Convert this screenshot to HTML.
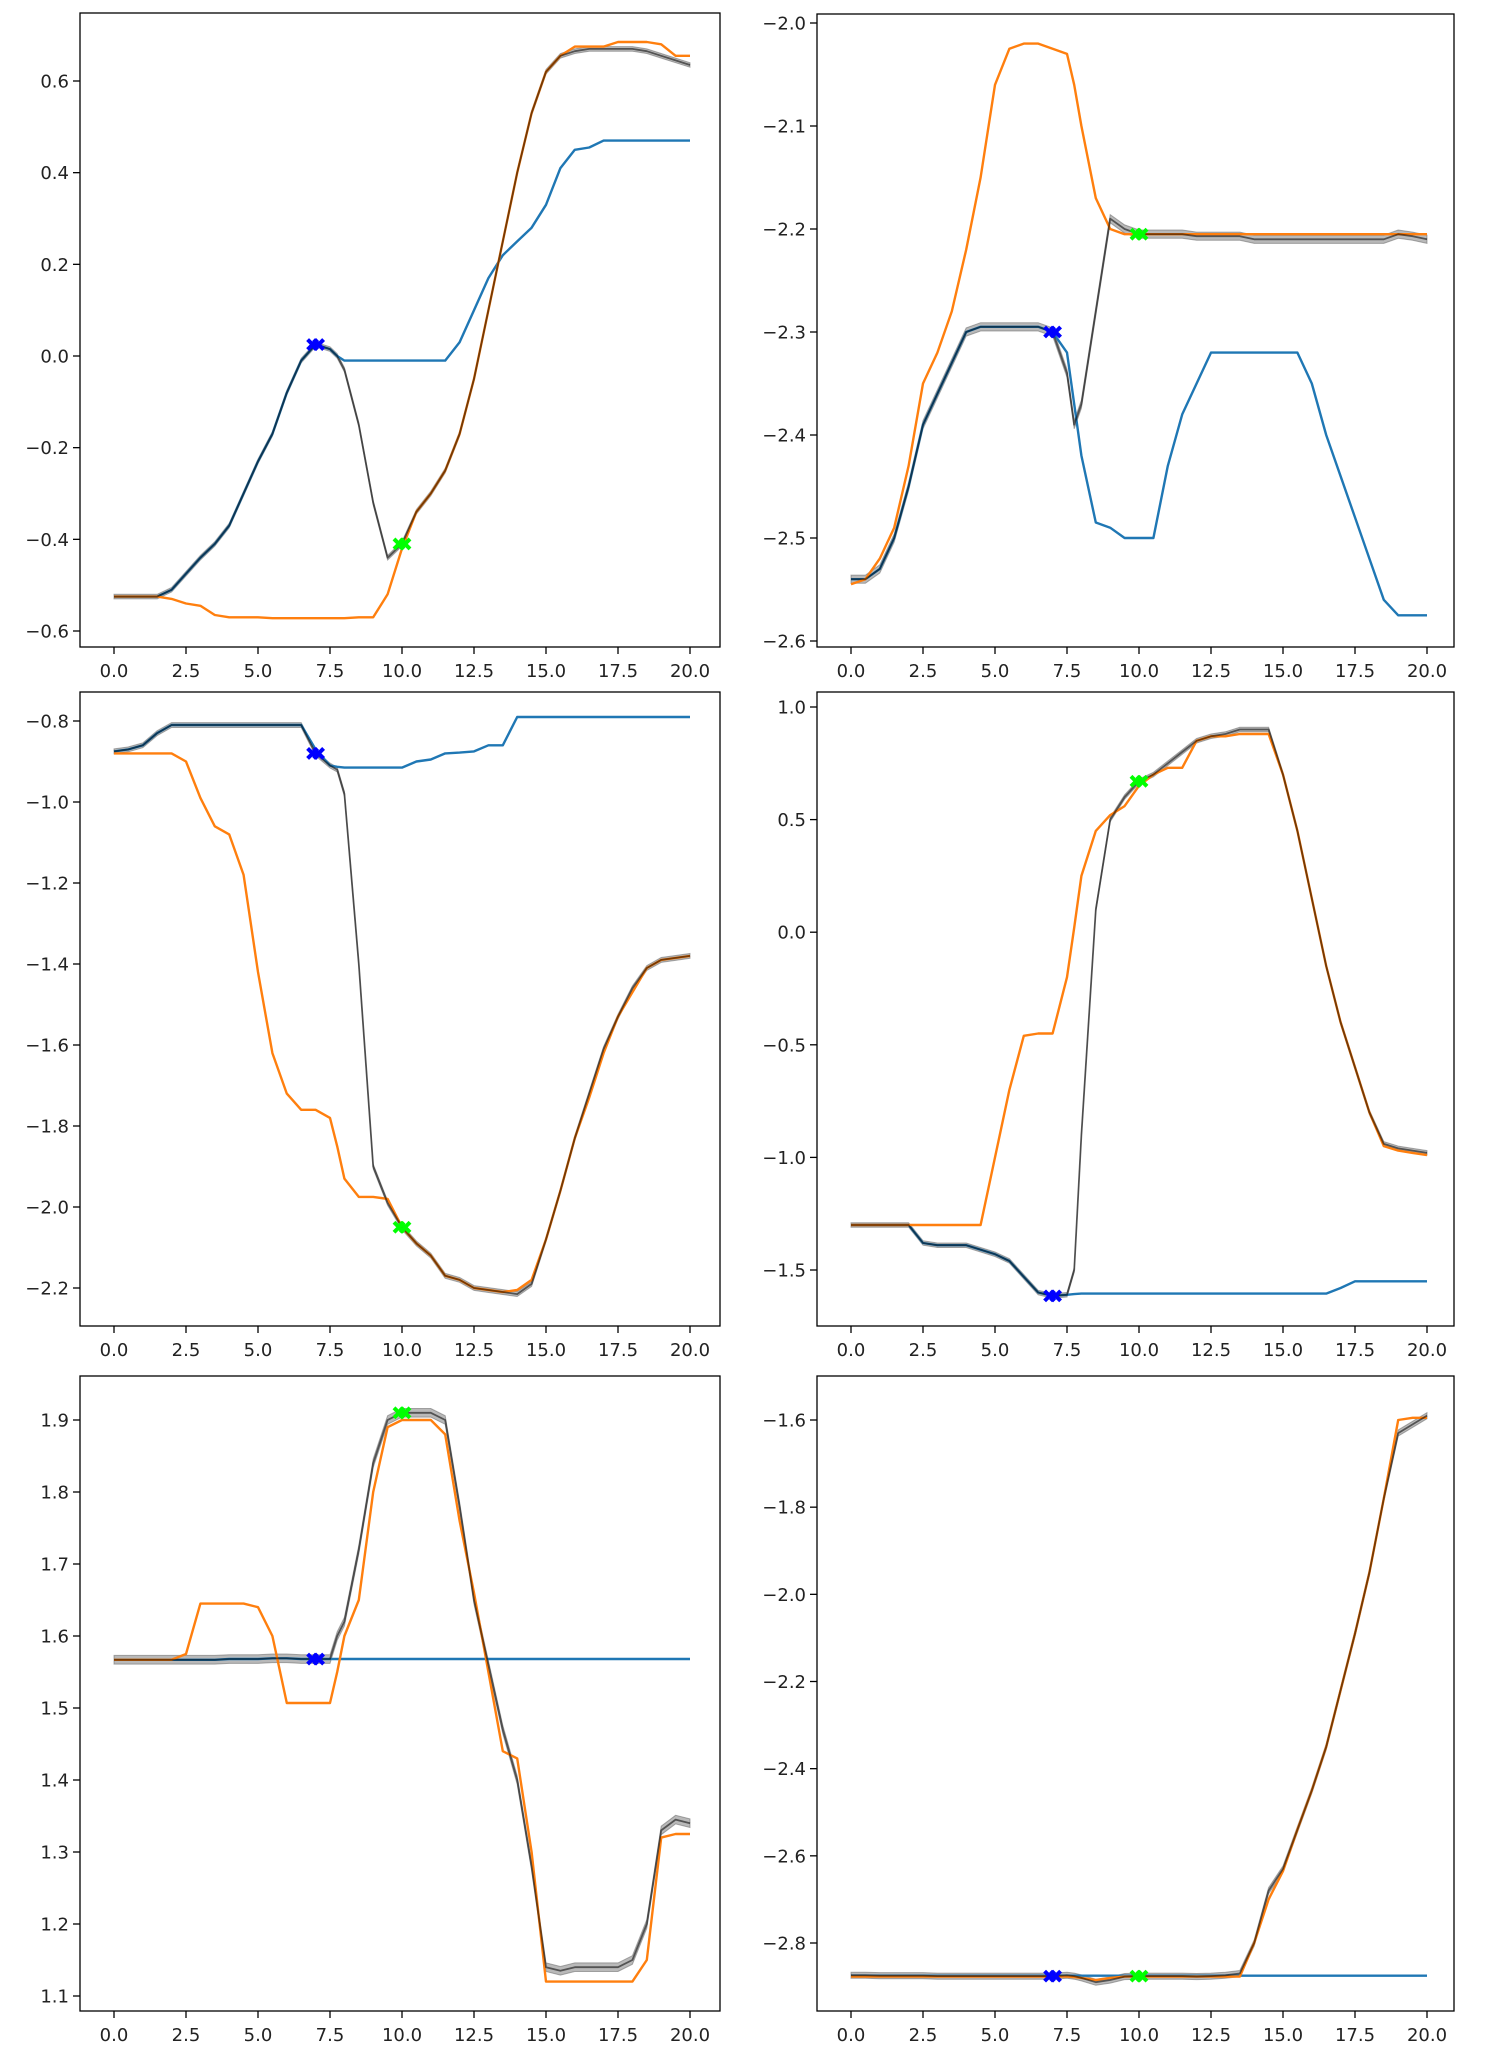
<!DOCTYPE html>
<html><head><meta charset="utf-8">
<style>
body{margin:0;background:#fff;}
svg{display:block;font-family:"DejaVu Sans","Liberation Sans",sans-serif;}
</style></head>
<body>
<svg id="fig" width="1486" height="2058" viewBox="0 0 1486 2058" xmlns="http://www.w3.org/2000/svg"></svg>
<script>
const xs = [0,0.5,1,1.5,2,2.5,3,3.5,4,4.5,5,5.5,6,6.5,7,7.5,7.75,8,8.5,9,9.5,10,10.5,11,11.5,12,12.5,13,13.5,14,14.5,15,15.5,16,16.5,17,17.5,18,18.5,19,19.5,20];
const xTicks = [0, 2.5, 5, 7.5, 10, 12.5, 15, 17.5, 20];
const xTickLabels = ["0.0","2.5","5.0","7.5","10.0","12.5","15.0","17.5","20.0"];

// Panel 1
const p1Blue = [-0.525,-0.525,-0.525,-0.525,-0.51,-0.475,-0.44,-0.41,-0.37,-0.3,-0.23,-0.17,-0.08,-0.01,0.025,0.015,0.0,-0.01,-0.01,-0.01,-0.01,-0.01,-0.01,-0.01,-0.01,0.03,0.1,0.17,0.22,0.25,0.28,0.33,0.41,0.45,0.455,0.47,0.47,0.47,0.47,0.47,0.47,0.47];
const p1Orange = [-0.525,-0.525,-0.525,-0.525,-0.53,-0.54,-0.545,-0.565,-0.57,-0.57,-0.57,-0.572,-0.572,-0.572,-0.572,-0.572,-0.572,-0.572,-0.57,-0.57,-0.52,-0.42,-0.34,-0.3,-0.25,-0.17,-0.05,0.1,0.25,0.4,0.53,0.62,0.655,0.675,0.675,0.675,0.685,0.685,0.685,0.68,0.655,0.655];
const p1Gray = [-0.525,-0.525,-0.525,-0.525,-0.51,-0.475,-0.44,-0.41,-0.37,-0.3,-0.23,-0.17,-0.08,-0.01,0.025,0.015,0.0,-0.03,-0.15,-0.32,-0.44,-0.41,-0.34,-0.3,-0.25,-0.17,-0.05,0.1,0.25,0.4,0.53,0.62,0.655,0.665,0.67,0.67,0.67,0.67,0.665,0.655,0.645,0.635];
const p1Ticks = [-0.6,-0.4,-0.2,0,0.2,0.4,0.6];
const p1TickLabels = ["\u22120.6","\u22120.4","\u22120.2","0.0","0.2","0.4","0.6"];

// Panel 2
const p2Blue = [-2.54,-2.54,-2.53,-2.5,-2.45,-2.39,-2.36,-2.33,-2.3,-2.295,-2.295,-2.295,-2.295,-2.295,-2.3,-2.32,-2.37,-2.42,-2.485,-2.49,-2.5,-2.5,-2.5,-2.43,-2.38,-2.35,-2.32,-2.32,-2.32,-2.32,-2.32,-2.32,-2.32,-2.35,-2.4,-2.44,-2.48,-2.52,-2.56,-2.575,-2.575,-2.575];
const p2Orange = [-2.545,-2.54,-2.52,-2.49,-2.43,-2.35,-2.32,-2.28,-2.22,-2.15,-2.06,-2.025,-2.02,-2.02,-2.025,-2.03,-2.06,-2.1,-2.17,-2.2,-2.205,-2.205,-2.205,-2.205,-2.205,-2.205,-2.205,-2.205,-2.205,-2.205,-2.205,-2.205,-2.205,-2.205,-2.205,-2.205,-2.205,-2.205,-2.205,-2.205,-2.205,-2.205];
const p2Gray = [-2.54,-2.54,-2.53,-2.5,-2.45,-2.39,-2.36,-2.33,-2.3,-2.295,-2.295,-2.295,-2.295,-2.295,-2.3,-2.34,-2.39,-2.37,-2.28,-2.19,-2.2,-2.205,-2.205,-2.205,-2.205,-2.207,-2.207,-2.207,-2.207,-2.21,-2.21,-2.21,-2.21,-2.21,-2.21,-2.21,-2.21,-2.21,-2.21,-2.205,-2.207,-2.21];
const p2Ticks = [-2.6,-2.5,-2.4,-2.3,-2.2,-2.1,-2.0];
const p2TickLabels = ["\u22122.6","\u22122.5","\u22122.4","\u22122.3","\u22122.2","\u22122.1","\u22122.0"];

// Panel 3
const p3Blue = [-0.875,-0.87,-0.86,-0.83,-0.81,-0.81,-0.81,-0.81,-0.81,-0.81,-0.81,-0.81,-0.81,-0.81,-0.87,-0.91,-0.913,-0.915,-0.915,-0.915,-0.915,-0.915,-0.9,-0.895,-0.88,-0.878,-0.875,-0.86,-0.86,-0.79,-0.79,-0.79,-0.79,-0.79,-0.79,-0.79,-0.79,-0.79,-0.79,-0.79,-0.79,-0.79];
const p3Orange = [-0.88,-0.88,-0.88,-0.88,-0.88,-0.9,-0.99,-1.06,-1.08,-1.18,-1.42,-1.62,-1.72,-1.76,-1.76,-1.78,-1.85,-1.93,-1.975,-1.975,-1.98,-2.05,-2.09,-2.12,-2.17,-2.18,-2.2,-2.205,-2.21,-2.205,-2.18,-2.08,-1.96,-1.83,-1.73,-1.62,-1.53,-1.47,-1.41,-1.39,-1.385,-1.38];
const p3Gray = [-0.875,-0.87,-0.86,-0.83,-0.81,-0.81,-0.81,-0.81,-0.81,-0.81,-0.81,-0.81,-0.81,-0.81,-0.88,-0.91,-0.92,-0.98,-1.4,-1.9,-1.99,-2.05,-2.09,-2.12,-2.17,-2.18,-2.2,-2.205,-2.21,-2.215,-2.19,-2.08,-1.96,-1.83,-1.72,-1.61,-1.53,-1.46,-1.41,-1.39,-1.385,-1.38];
const p3Ticks = [-2.2,-2.0,-1.8,-1.6,-1.4,-1.2,-1.0,-0.8];
const p3TickLabels = ["\u22122.2","\u22122.0","\u22121.8","\u22121.6","\u22121.4","\u22121.2","\u22121.0","\u22120.8"];

// Panel 4
const p4Blue = [-1.3,-1.3,-1.3,-1.3,-1.3,-1.38,-1.39,-1.39,-1.39,-1.41,-1.43,-1.46,-1.53,-1.6,-1.615,-1.61,-1.607,-1.605,-1.605,-1.605,-1.605,-1.605,-1.605,-1.605,-1.605,-1.605,-1.605,-1.605,-1.605,-1.605,-1.605,-1.605,-1.605,-1.605,-1.605,-1.58,-1.55,-1.55,-1.55,-1.55,-1.55,-1.55];
const p4Orange = [-1.3,-1.3,-1.3,-1.3,-1.3,-1.3,-1.3,-1.3,-1.3,-1.3,-1.0,-0.7,-0.46,-0.45,-0.45,-0.2,0.02,0.25,0.45,0.52,0.56,0.65,0.7,0.73,0.73,0.85,0.87,0.87,0.88,0.88,0.88,0.7,0.45,0.15,-0.15,-0.4,-0.6,-0.8,-0.95,-0.97,-0.98,-0.99];
const p4Gray = [-1.3,-1.3,-1.3,-1.3,-1.3,-1.38,-1.39,-1.39,-1.39,-1.41,-1.43,-1.46,-1.53,-1.6,-1.615,-1.61,-1.5,-0.9,0.1,0.5,0.6,0.67,0.7,0.75,0.8,0.85,0.87,0.88,0.9,0.9,0.9,0.7,0.45,0.15,-0.15,-0.4,-0.6,-0.8,-0.94,-0.96,-0.97,-0.98];
const p4Ticks = [-1.5,-1.0,-0.5,0,0.5,1.0];
const p4TickLabels = ["\u22121.5","\u22121.0","\u22120.5","0.0","0.5","1.0"];

// Panel 5
const p5Blue = [1.567,1.567,1.567,1.567,1.567,1.567,1.567,1.567,1.568,1.568,1.568,1.569,1.569,1.568,1.568,1.568,1.568,1.568,1.568,1.568,1.568,1.568,1.568,1.568,1.568,1.568,1.568,1.568,1.568,1.568,1.568,1.568,1.568,1.568,1.568,1.568,1.568,1.568,1.568,1.568,1.568,1.568];
const p5Orange = [1.567,1.567,1.567,1.567,1.567,1.575,1.645,1.645,1.645,1.645,1.64,1.6,1.507,1.507,1.507,1.507,1.55,1.6,1.65,1.8,1.89,1.9,1.9,1.9,1.88,1.76,1.66,1.55,1.44,1.43,1.3,1.12,1.12,1.12,1.12,1.12,1.12,1.12,1.15,1.32,1.325,1.325];
const p5Gray = [1.567,1.567,1.567,1.567,1.567,1.567,1.567,1.567,1.568,1.568,1.568,1.569,1.569,1.568,1.568,1.568,1.6,1.62,1.72,1.84,1.9,1.91,1.91,1.91,1.9,1.78,1.65,1.56,1.47,1.4,1.28,1.14,1.135,1.14,1.14,1.14,1.14,1.15,1.2,1.33,1.345,1.34];
const p5Ticks = [1.1,1.2,1.3,1.4,1.5,1.6,1.7,1.8,1.9];
const p5TickLabels = ["1.1","1.2","1.3","1.4","1.5","1.6","1.7","1.8","1.9"];

// Panel 6
const p6Blue = [-2.875,-2.875,-2.875,-2.875,-2.875,-2.875,-2.875,-2.875,-2.875,-2.875,-2.875,-2.875,-2.875,-2.875,-2.875,-2.875,-2.875,-2.875,-2.875,-2.875,-2.875,-2.875,-2.875,-2.875,-2.875,-2.875,-2.875,-2.875,-2.875,-2.875,-2.875,-2.875,-2.875,-2.875,-2.875,-2.875,-2.875,-2.875,-2.875,-2.875,-2.875,-2.875];
const p6Orange = [-2.877,-2.877,-2.877,-2.877,-2.877,-2.877,-2.877,-2.877,-2.877,-2.877,-2.877,-2.877,-2.877,-2.877,-2.877,-2.877,-2.878,-2.88,-2.885,-2.88,-2.877,-2.877,-2.877,-2.877,-2.877,-2.877,-2.877,-2.877,-2.877,-2.8,-2.7,-2.635,-2.54,-2.45,-2.35,-2.22,-2.09,-1.95,-1.78,-1.6,-1.595,-1.595];
const p6Gray = [-2.874,-2.874,-2.875,-2.875,-2.875,-2.875,-2.876,-2.876,-2.876,-2.876,-2.876,-2.876,-2.876,-2.876,-2.876,-2.874,-2.876,-2.88,-2.89,-2.885,-2.877,-2.876,-2.876,-2.876,-2.876,-2.877,-2.876,-2.874,-2.87,-2.8,-2.68,-2.63,-2.54,-2.45,-2.35,-2.22,-2.09,-1.95,-1.78,-1.63,-1.61,-1.59];
const p6Ticks = [-2.8,-2.6,-2.4,-2.2,-2.0,-1.8,-1.6];
const p6TickLabels = ["\u22122.8","\u22122.6","\u22122.4","\u22122.2","\u22122.0","\u22121.8","\u22121.6"];

const blueMarkX = 7;
const greenMarkX = 10;

const NS = "http://www.w3.org/2000/svg";
const fig = document.getElementById("fig");
function mk(tag, attrs, parent) {
  const e = document.createElementNS(NS, tag);
  for (const k in attrs) e.setAttribute(k, attrs[k]);
  parent.appendChild(e);
  return e;
}

const panels = [
  {L:80,R:720,T:13,B:647,x0:114,x1:690,yv0:0.6,yp0:81,yv1:-0.6,yp1:631,blue:p1Blue,orange:p1Orange,gray:p1Gray,ticks:p1Ticks,labels:p1TickLabels,band:0.005},
  {L:817,R:1454,T:14,B:647,x0:851,x1:1427,yv0:-2.0,yp0:23,yv1:-2.6,yp1:641,blue:p2Blue,orange:p2Orange,gray:p2Gray,ticks:p2Ticks,labels:p2TickLabels,band:0.004},
  {L:80,R:720,T:692,B:1326,x0:114,x1:690,yv0:-0.8,yp0:721,yv1:-2.2,yp1:1288,blue:p3Blue,orange:p3Orange,gray:p3Gray,ticks:p3Ticks,labels:p3TickLabels,band:0.006},
  {L:817,R:1454,T:692,B:1326,x0:851,x1:1427,yv0:1.0,yp0:707,yv1:-1.5,yp1:1270,blue:p4Blue,orange:p4Orange,gray:p4Gray,ticks:p4Ticks,labels:p4TickLabels,band:0.01},
  {L:80,R:720,T:1376,B:2011,x0:114,x1:690,yv0:1.9,yp0:1420,yv1:1.1,yp1:1996,blue:p5Blue,orange:p5Orange,gray:p5Gray,ticks:p5Ticks,labels:p5TickLabels,band:0.006},
  {L:817,R:1454,T:1376,B:2011,x0:851,x1:1427,yv0:-1.6,yp0:1420,yv1:-2.8,yp1:1943,blue:p6Blue,orange:p6Orange,gray:p6Gray,ticks:p6Ticks,labels:p6TickLabels,band:0.007}
];

panels.forEach((p, idx) => {
  const g = mk("g", {}, fig);
  
  
  const sx = v => p.x0 + (v - 0) / 20 * (p.x1 - p.x0);
  const sy = v => p.yp0 + (v - p.yv0) / (p.yv1 - p.yv0) * (p.yp1 - p.yp0);
  const clipId = "clip" + idx;
  const cp = mk("clipPath", {id: clipId}, g);
  mk("rect", {x: p.L, y: p.T, width: p.R - p.L, height: p.B - p.T}, cp);
  const plot = mk("g", {"clip-path": "url(#" + clipId + ")"}, g);

  const line = arr => arr.map((v, i) => (i ? "L" : "M") + sx(xs[i]).toFixed(1) + " " + sy(v).toFixed(1)).join(" ");

  let up = xs.map((x, i) => sx(x).toFixed(1) + "," + sy(p.gray[i] + p.band).toFixed(1));
  let dn = xs.map((x, i) => sx(x).toFixed(1) + "," + sy(p.gray[i] - p.band).toFixed(1)).reverse();
  const band = mk("polygon", {points: up.concat(dn).join(" "), fill: "#808080", "fill-opacity": "0.55", stroke: "#606060", "stroke-opacity": "0.5", "stroke-width": "1"}, plot);
  
  

  const bl = mk("path", {d: line(p.blue), fill: "none", stroke: "#1f77b4", "stroke-width": "2.4", "stroke-linejoin": "round"}, plot);
  
  
  const ol = mk("path", {d: line(p.orange), fill: "none", stroke: "#ff7f0e", "stroke-width": "2.4", "stroke-linejoin": "round"}, plot);
  
  
  const gl = mk("path", {d: line(p.gray), fill: "none", stroke: "#000", "stroke-opacity": "0.55", "stroke-width": "1.8", "stroke-linejoin": "round"}, plot);
  
  

  [[blueMarkX, "#0000ff", "blue-marker"], [greenMarkX, "#00ff00", "green-marker"]].forEach(m => {
    const i = xs.indexOf(m[0]);
    const cx = sx(m[0]), cy = sy(p.gray[i]);
    const mg = mk("g", {}, plot);
    
    
    [-3, 3].forEach(dx => {
      mk("path", {d: `M${cx+dx-5} ${cy-5} L${cx+dx+5} ${cy+5} M${cx+dx-5} ${cy+5} L${cx+dx+5} ${cy-5}`, stroke: m[1], "stroke-width": "4"}, mg);
    });
  });

  const fr = mk("rect", {x: p.L, y: p.T, width: p.R - p.L, height: p.B - p.T, fill: "none", stroke: "#000", "stroke-width": "1.3"}, g);
  
  

  xTicks.forEach((t, i) => {
    const x = sx(t);
    mk("line", {x1: x, y1: p.B, x2: x, y2: p.B + 7, stroke: "#000", "stroke-width": "1.3"}, g);
    const tx = mk("text", {x: x, y: p.B + 30, "text-anchor": "middle", "font-size": "18", fill: "#222"}, g);
    tx.textContent = xTickLabels[i];
    
    
  });
  p.ticks.forEach((t, i) => {
    const y = sy(t);
    mk("line", {x1: p.L - 7, y1: y, x2: p.L, y2: y, stroke: "#000", "stroke-width": "1.3"}, g);
    const ty = mk("text", {x: p.L - 11, y: y + 6.5, "text-anchor": "end", "font-size": "18", fill: "#222"}, g);
    ty.textContent = p.labels[i];
    
    
  });
});
</script>
</body></html>
